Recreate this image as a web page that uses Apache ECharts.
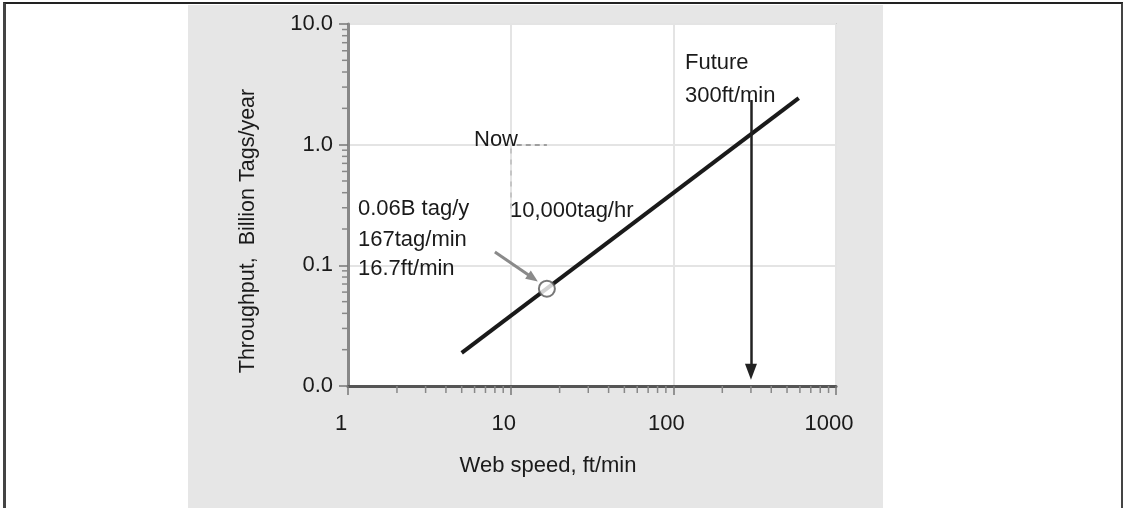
<!DOCTYPE html>
<html>
<head>
<meta charset="utf-8">
<script src="https://cdn.jsdelivr.net/npm/echarts@6/dist/echarts.min.js"></script>
<style>
  html, body { margin: 0; padding: 0; background: #fff; }
  #frame { position: absolute; left: 3px; top: 2px; width: 1115px; height: 520px;
           border-top: 2px solid #222; border-left: 3px solid #444; border-right: 3px solid #444; }
  #panel { position: absolute; left: 188px; top: 5px; width: 695px; height: 503px; background: #e6e6e6; }
  #chart { position: absolute; left: 0; top: 0; width: 1123px; height: 508px; }
</style>
</head>
<body>
<div id="frame"></div>
<div id="panel"></div>
<div id="chart"></div>
<script>
// throughput vs web speed (log-log)
const speed = [5.0, 590]
const throughput = [0.0188, 2.43]
const nowPoint = [16.7, 0.064]
const futureSpeed = 300
const futureArrowY = [2.34, 0.0131]
const calloutArrow = [[8.0, 0.129], [13.7, 0.0785]]
const nowGuideH = [[10.9, 1.0], [16.7, 1.0]]
const nowGuideV = [[10, 0.93], [10, 0.28]]
const xTickLabels = ['1', '10', '100', '1000']
const yTickLabels = ['0.0', '0.1', '1.0', '10.0']

const FONT = '"Liberation Sans", Arial, sans-serif'

// minor log ticks 2..9 of each decade
const minorX = []
for (let d = 1; d <= 100; d *= 10) for (let k = 2; k <= 9; k++) minorX.push([k * d, 0.01])
const minorY = []
for (let d = 0.01; d <= 1.001; d *= 10) for (let k = 2; k <= 9; k++) minorY.push([1, +(k * d).toPrecision(3)])

const chart = echarts.init(document.getElementById('chart'))

function tickItem(horizontal) {
  return function (params, api) {
    const p = api.coord([api.value(0), api.value(1)])
    return {
      type: 'line',
      shape: horizontal
        ? { x1: p[0], y1: p[1], x2: p[0] - 6, y2: p[1] }
        : { x1: p[0], y1: p[1], x2: p[0], y2: p[1] + 7 },
      style: { stroke: '#888', lineWidth: 1.5 }
    }
  }
}

function note(text, x, y) {
  return {
    type: 'text', x: x, y: y, z: 10,
    style: { text: text, fontSize: 22, fontFamily: FONT, fill: '#1a1a1a', verticalAlign: 'middle', textVerticalAlign: 'middle' }
  }
}

const option = {
  animation: false,
  backgroundColor: 'transparent',
  grid: {
    left: 348, right: 287, top: 24, bottom: 122,
    show: true, backgroundColor: '#fff', borderColor: '#cfcfcf', borderWidth: 2
  },
  xAxis: {
    type: 'log', logBase: 10, min: 1, max: 1000,
    axisLine: { lineStyle: { color: '#555', width: 3 } },
    axisTick: { show: true, length: 9, lineStyle: { color: '#777', width: 1.5 } },
    axisLabel: {
      margin: 27, fontSize: 22, color: '#1a1a1a', fontFamily: FONT,
      padding: [0, 14, 0, 0],
      formatter: (v) => xTickLabels[Math.round(Math.log10(v))]
    },
    splitLine: { show: true, lineStyle: { color: '#e4e4e4', width: 2 } }
  },
  yAxis: {
    type: 'log', logBase: 10, min: 0.01, max: 10,
    axisLine: { show: true, lineStyle: { color: '#888', width: 3 } },
    axisTick: { show: true, length: 9, lineStyle: { color: '#777', width: 1.5 } },
    axisLabel: {
      margin: 15, fontSize: 22, color: '#1a1a1a', fontFamily: FONT,
      padding: [10, 0, 0, 0],
      formatter: (v) => yTickLabels[Math.round(Math.log10(v)) + 2]
    },
    splitLine: { show: true, lineStyle: { color: '#e4e4e4', width: 2 } }
  },
  series: [
    {
      type: 'line',
      data: speed.map((s, i) => [s, throughput[i]]),
      showSymbol: false,
      lineStyle: { color: '#1a1a1a', width: 4 },
      silent: true,
      z: 3,
      markLine: {
        silent: true,
        label: { show: false },
        symbol: ['none', 'none'],
        data: [
          [
            { coord: [futureSpeed, futureArrowY[0]], symbol: 'none', lineStyle: { color: '#222', width: 2.5, type: 'solid' } },
            { coord: [futureSpeed, futureArrowY[1]], symbol: 'triangle', symbolSize: [12, 16] }
          ],
          [
            { coord: calloutArrow[0], symbol: 'none', lineStyle: { color: '#8a8a8a', width: 3, type: 'solid' } },
            { coord: calloutArrow[1], symbol: 'triangle', symbolSize: [10, 12] }
          ],
          [
            { coord: nowGuideH[0], symbol: 'none', lineStyle: { color: '#888', width: 1.5, type: [5, 4] } },
            { coord: nowGuideH[1], symbol: 'none' }
          ],
          [
            { coord: nowGuideV[0], symbol: 'none', lineStyle: { color: '#bbb', width: 1.5, type: [5, 6] } },
            { coord: nowGuideV[1], symbol: 'none' }
          ]
        ]
      }
    },
    {
      type: 'scatter',
      data: [nowPoint],
      symbol: 'circle',
      symbolSize: 16,
      itemStyle: { color: '#fff', borderColor: '#555', borderWidth: 2 },
      silent: true,
      z: 4
    },
    { type: 'custom', data: minorX, renderItem: tickItem(false), clip: false, silent: true },
    { type: 'custom', data: minorY, renderItem: tickItem(true), clip: false, silent: true }
  ],
  graphic: [
    note('Future', 685, 63),
    note('300ft/min', 685, 96),
    note('Now', 474, 140),
    note('10,000tag/hr', 510, 211),
    note('0.06B tag/y', 358, 209),
    note('167tag/min', 358, 240),
    note('16.7ft/min', 358, 269),
    // axis names
    { type: 'text', x: 548, y: 466, style: { text: 'Web speed, ft/min', fontSize: 22, fontFamily: FONT, fill: '#1a1a1a', align: 'center', textAlign: 'center', verticalAlign: 'middle', textVerticalAlign: 'middle' } },
    { type: 'text', x: 248, y: 231, rotation: Math.PI / 2, style: { text: 'Throughput,  Billion Tags/year', fontSize: 21.5, fontFamily: FONT, fill: '#1a1a1a', align: 'center', textAlign: 'center', verticalAlign: 'middle', textVerticalAlign: 'middle' } }
  ]
}

chart.setOption(option)
window.addEventListener('resize', function () {
  chart.resize()
})
</script>
</body>
</html>
